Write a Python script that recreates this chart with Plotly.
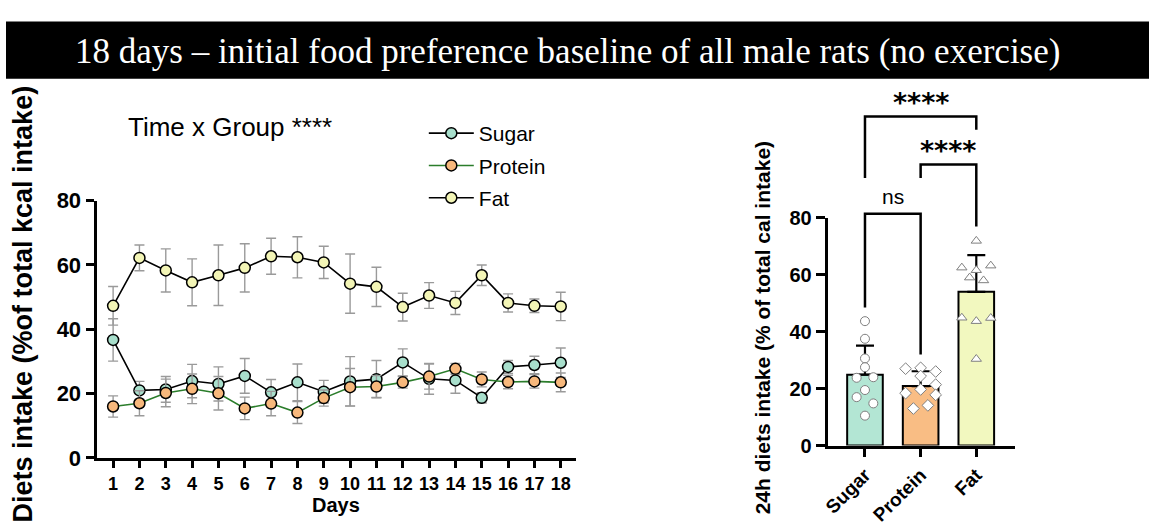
import plotly.graph_objects as go

# ---------------- data ----------------
days = list(range(1, 19))

sugar_mean = [36.7, 21.0, 21.3, 23.9, 23.0, 25.5, 20.4, 23.5, 20.6, 23.8, 24.5, 29.7, 24.6, 24.1, 18.7, 28.3, 28.9, 29.6]
sugar_sem = [6.6, 2.8, 4.0, 5.2, 5.3, 5.4, 4.0, 5.7, 3.5, 7.7, 5.8, 4.2, 4.8, 4.0, 1.6, 2.0, 2.7, 4.6]

protein_mean = [16.0, 17.0, 20.2, 21.5, 20.1, 15.4, 16.9, 14.1, 18.6, 22.0, 22.2, 23.5, 25.3, 27.7, 24.4, 23.6, 23.8, 23.5]
protein_sem = [3.3, 3.9, 4.3, 4.6, 5.2, 3.5, 3.8, 3.4, 2.5, 5.8, 3.4, 1.8, 3.9, 1.7, 2.3, 2.1, 2.1, 2.9]

fat_mean = [47.3, 62.2, 58.3, 54.6, 56.8, 59.1, 62.7, 62.4, 60.8, 54.2, 53.2, 46.9, 50.5, 48.2, 56.8, 48.2, 47.3, 47.1]
fat_sem = [6.0, 4.0, 6.7, 7.3, 9.4, 7.5, 5.6, 6.4, 5.0, 9.2, 6.1, 4.3, 4.0, 3.6, 3.2, 2.8, 2.1, 4.4]

diets = ["Sugar", "Protein", "Fat"]
diet_mean = [24.9, 20.9, 54.0]
diet_sd = [10.2, 5.2, 12.9]

sugar_pts = [43.7, 37.5, 30.6, 27.5, 23.8, 24.0, 19.5, 17.0, 14.8, 10.5]
protein_pts = [27.0, 27.3, 26.0, 24.4, 21.4, 19.7, 18.4, 17.8, 14.1, 13.0]
fat_pts = [71.9, 62.5, 61.6, 63.2, 59.0, 58.0, 44.9, 43.7, 44.8, 30.4]

# horizontal spread of the individual points around each bar centre
sugar_spread = [0, 0, 0, 0, -0.15, 0.15, 0, -0.15, 0.15, 0]
protein_spread = [-0.27, 0, 0.27, 0, 0.27, 0, -0.27, 0.27, 0.13, -0.13]
fat_spread = [0, -0.26, 0, 0.26, -0.12, 0.13, -0.26, 0, 0.26, 0]

# ---------------- styling ----------------
W, H = 1149, 530
SANS = "Liberation Sans, Arial, sans-serif"
SERIF = "Liberation Serif, Times New Roman, serif"
STAR = "DejaVu Sans, sans-serif"

C_SUGAR = "#a8dfcc"
C_PROTEIN = "#f7b87c"
C_FAT = "#f3f5b6"
BAR_SUGAR = "#b3e6d4"
BAR_PROTEIN = "#f9bd84"
BAR_FAT = "#f2f8bf"
ERR_GREY = "#9a9a9a"
PT_GREY = "#7f7f7f"


def px_x(p):
    return p / W


def px_y(p):
    return 1 - p / H


fig = go.Figure()

# ---------------- left: daily time course ----------------
series = [
    ("Sugar", sugar_mean, sugar_sem, C_SUGAR, "#000000"),
    ("Protein", protein_mean, protein_sem, C_PROTEIN, "#2b7d2b"),
    ("Fat", fat_mean, fat_sem, C_FAT, "#000000"),
]
for name, mean, sem, fill, line_col in series:
    fig.add_trace(go.Scatter(
        x=days, y=mean, name=name, legendgroup=name,
        mode="lines+markers",
        line=dict(color=line_col, width=1.6),
        marker=dict(size=11, color=fill, line=dict(color="#000000", width=1.5)),
        error_y=dict(type="data", array=sem, visible=True,
                     color=ERR_GREY, thickness=1.4, width=5),
        xaxis="x", yaxis="y",
    ))

# ---------------- right: 24h intake bars ----------------
fig.add_trace(go.Bar(
    x=[0, 1, 2], y=diet_mean, width=0.64,
    marker=dict(color=[BAR_SUGAR, BAR_PROTEIN, BAR_FAT],
                line=dict(color="#000000", width=2)),
    error_y=dict(type="data", symmetric=False, array=diet_sd,
                 arrayminus=[0, 0, 0], color="#000000", thickness=2.2, width=9),
    showlegend=False, xaxis="x2", yaxis="y2",
))

point_sets = [
    (0, sugar_pts, sugar_spread, "circle"),
    (1, protein_pts, protein_spread, "diamond"),
    (2, fat_pts, fat_spread, "triangle-up"),
]
for idx, vals, spread, sym in point_sets:
    fig.add_trace(go.Scatter(
        x=[idx + s for s in spread], y=vals, mode="markers",
        marker=dict(symbol=sym, size=9, color="#ffffff",
                    line=dict(color=PT_GREY, width=1)),
        showlegend=False, xaxis="x2", yaxis="y2", cliponaxis=False,
    ))

# significance brackets (drawn on an invisible axis sharing the bar scale)
brackets = [
    ([0, 0, 2, 2], [94.0, 115.6, 115.6, 110.9]),
    ([1, 1, 2, 2], [94.0, 98.7, 98.7, 76.9]),
    ([0, 0, 1, 1], [48.5, 81.4, 81.4, 32.0]),
]
for bx, by in brackets:
    fig.add_trace(go.Scatter(
        x=bx, y=by, mode="lines", line=dict(color="#000000", width=2.5),
        showlegend=False, hoverinfo="skip", xaxis="x2", yaxis="y3",
    ))

sig_labels = [
    (1.0, 120.4, "****", STAR, 27, "bold"),
    (1.5, 103.7, "****", STAR, 27, "bold"),
    (0.5, 87.3, "ns", SANS, 21, "normal"),
]

annotations = [
    # title bar text
    dict(text="18 days \u2013 initial food preference baseline of all male rats (no exercise)",
         x=px_x(67), y=px_y(41), xref="paper", yref="paper",
         xanchor="left", yanchor="middle", showarrow=False,
         font=dict(family=SERIF, size=35, color="#ffffff")),
    # left axis title
    dict(text="Diets intake (%of total kcal intake)", textangle=-90,
         x=px_x(17), y=px_y(306), xref="paper", yref="paper",
         xanchor="center", yanchor="middle", showarrow=False,
         font=dict(family=SANS, size=27, color="#000000", weight="bold")),
    dict(text="Days", x=px_x(332), y=px_y(517), xref="paper", yref="paper",
         xanchor="center", yanchor="middle", showarrow=False,
         font=dict(family=SANS, size=20, color="#000000", weight="bold")),
    dict(text="Time x Group ****", x=px_x(121), y=px_y(121), xref="paper", yref="paper",
         xanchor="left", yanchor="middle", showarrow=False,
         font=dict(family=SANS, size=26, color="#000000")),
    # right axis title
    dict(text="24h diets intake (% of total cal intake)", textangle=-90,
         x=px_x(760), y=px_y(332), xref="paper", yref="paper",
         xanchor="center", yanchor="middle", showarrow=False,
         font=dict(family=SANS, size=21, color="#000000", weight="bold")),
]
for lx, ly, txt, fam, sz, wt in sig_labels:
    annotations.append(dict(
        text=txt, x=lx, y=ly, xref="x2", yref="y3",
        xanchor="center", yanchor="middle", showarrow=False,
        font=dict(family=fam, size=sz, color="#000000", weight=wt)))

axis_common = dict(showline=True, linecolor="#000000", linewidth=3,
                   ticks="outside", tickcolor="#000000", tickwidth=3,
                   showgrid=False, zeroline=False, fixedrange=True)

fig.update_layout(
    width=W, height=H,
    margin=dict(l=0, r=0, t=0, b=0),
    paper_bgcolor="#ffffff", plot_bgcolor="rgba(0,0,0,0)",
    font=dict(family=SANS, color="#000000"),
    showlegend=True,
    legend=dict(x=px_x(420), y=px_y(106), xanchor="left", yanchor="top",
                font=dict(family=SANS, size=21, color="#000000"),
                bgcolor="rgba(0,0,0,0)", tracegroupgap=2, itemwidth=45),
    xaxis=dict(domain=[px_x(91), px_x(573)], range=[0.37, 18.58],
               tickvals=days, ticklen=7, anchor="y",
               tickfont=dict(family=SANS, size=18, weight="bold"),
               ticklabelstandoff=0, **axis_common),
    yaxis=dict(domain=[px_y(468), px_y(198)], range=[0, 80],
               tickvals=[0, 20, 40, 60, 80], ticklen=8, anchor="x",
               tickfont=dict(family=SANS, size=22, weight="bold"),
               **axis_common),
    xaxis2=dict(domain=[px_x(826), px_x(1014)], range=[-0.67, 2.69],
                tickvals=[0, 1, 2], ticktext=diets, tickangle=-45,
                ticklen=8, anchor="y2",
                tickfont=dict(family=SANS, size=19, weight="bold"),
                **axis_common),
    yaxis2=dict(domain=[px_y(455), px_y(216)], range=[0, 80],
                tickvals=[0, 20, 40, 60, 80], ticklen=9, anchor="x2",
                tickfont=dict(family=SANS, size=20, weight="bold"),
                **axis_common),
    yaxis3=dict(domain=[px_y(455), px_y(80)], range=[0, 125.5],
                anchor="x2", visible=False, fixedrange=True),
    annotations=annotations,
    shapes=[dict(type="rect", xref="paper", yref="paper",
                 x0=0, x1=1, y0=px_y(70), y1=px_y(10),
                 fillcolor="#000000", line=dict(width=0), layer="below")],
)

fig.write_html(
    "out.html",
    post_script="document.body.style.margin='0';document.body.style.overflow='hidden';",
)
